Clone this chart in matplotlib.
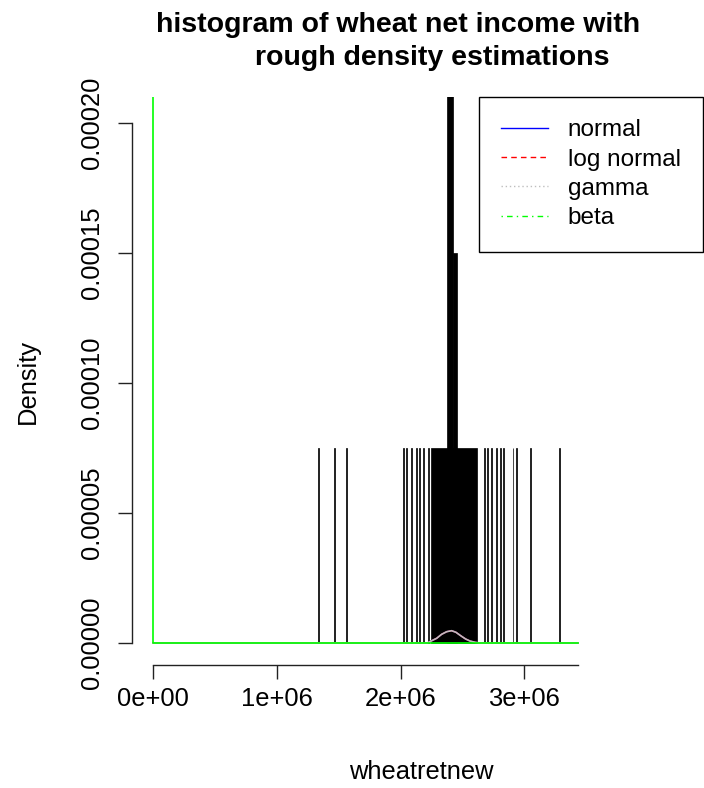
import matplotlib
matplotlib.use('Agg')
import matplotlib.pyplot as plt
from matplotlib.lines import Line2D

plt.rcParams['font.family'] = ['Liberation Sans', 'DejaVu Sans']

#############################################################
## Dados
#############################################################
# Histograma de wheatretnew (limite esquerdo, largura, densidade)
bar_left = [1.330e6, 1.459e6, 1.562e6, 2.015e6, 2.045e6, 2.086e6, 2.124e6, 2.152e6,
            2.184e6, 2.223e6, 2.243e6, 2.377e6, 2.426e6, 2.673e6, 2.698e6, 2.730e6,
            2.767e6, 2.799e6, 2.827e6, 2.904e6, 2.936e6, 3.049e6, 3.283e6]
bar_width = [0.008e6, 0.008e6, 0.008e6, 0.008e6, 0.008e6, 0.008e6, 0.008e6, 0.008e6,
             0.008e6, 0.008e6, 0.376e6, 0.049e6, 0.029e6, 0.008e6, 0.008e6, 0.008e6,
             0.008e6, 0.008e6, 0.008e6, 0.008e6, 0.008e6, 0.008e6, 0.008e6]
bar_height = [7.5e-5, 7.5e-5, 7.5e-5, 7.5e-5, 7.5e-5, 7.5e-5, 7.5e-5, 7.5e-5,
              7.5e-5, 7.5e-5, 7.5e-5, 2.25e-4, 1.5e-4, 7.5e-5, 7.5e-5, 7.5e-5,
              7.5e-5, 7.5e-5, 7.5e-5, 7.5e-5, 7.5e-5, 7.5e-5, 7.5e-5]

# Curvas de densidade (normal, log normal e gamma praticamente iguais)
curve_x = [0.0, 2.215e6, 2.251e6, 2.291e6, 2.331e6, 2.372e6, 2.412e6, 2.447e6,
           2.485e6, 2.525e6, 2.560e6, 2.601e6, 2.640e6, 3.433e6]
normal_y = [0.0, 0.0, 0.88e-6, 1.81e-6, 3.35e-6, 4.35e-6, 4.73e-6, 4.12e-6,
            2.81e-6, 1.54e-6, 0.77e-6, 0.27e-6, 0.0, 0.0]
lognormal_y = [0.0, 0.0, 0.88e-6, 1.81e-6, 3.35e-6, 4.35e-6, 4.73e-6, 4.12e-6,
               2.81e-6, 1.54e-6, 0.77e-6, 0.27e-6, 0.0, 0.0]
gamma_y = [0.0, 0.0, 0.88e-6, 1.81e-6, 3.35e-6, 4.35e-6, 4.73e-6, 4.12e-6,
           2.81e-6, 1.54e-6, 0.77e-6, 0.27e-6, 0.0, 0.0]
beta_x = [0.0, 0.0, 3.433e6]
beta_y = [3.0e-4, 0.0, 0.0]

x_ticks = [0, 1e6, 2e6, 3e6]
x_tick_labels = ['0e+00', '1e+06', '2e+06', '3e+06']
y_ticks = [0.0, 0.00005, 0.00010, 0.00015, 0.00020]
y_tick_labels = ['0.00000', '0.00005', '0.00010', '0.00015', '0.00020']

legend_labels = ['normal', 'log normal', 'gamma', 'beta']

#############################################################
## Figura
#############################################################
W, H = 704, 788
fig = plt.figure(figsize=(W / 100, H / 100), dpi=100)
ax = fig.add_axes([132 / W, (H - 665) / H, (703 - 132) / W, (665 - 97) / H])

ax.bar(bar_left, bar_height, width=bar_width, align='edge', color='black',
       edgecolor='black', linewidth=0.5)

# no gráfico original as curvas aparecem quase contínuas (segmentos curtos)
ax.plot(curve_x, normal_y, color='blue', linewidth=1)
ax.plot(curve_x, lognormal_y, color='red', linewidth=1)
ax.plot(curve_x, gamma_y, color='#bebebe', linewidth=1.2)
ax.plot(beta_x, beta_y, color='#00ff00', linewidth=1.2)

ax.set_xlim(-0.172e6, 4.444e6)
ax.set_ylim(-8.46e-6, 2.10e-4)

for s in ['top', 'right']:
    ax.spines[s].set_visible(False)
ax.spines['left'].set_bounds(0, 0.0002)
ax.spines['bottom'].set_bounds(0, 3.433e6)
for s in ['left', 'bottom']:
    ax.spines[s].set_linewidth(1.0)
    ax.spines[s].set_color('#222222')

ax.set_xticks(x_ticks)
ax.set_xticklabels(x_tick_labels)
ax.set_yticks(y_ticks)
ax.set_yticklabels(y_tick_labels, rotation=90, va='center')
ax.tick_params(axis='both', length=10, width=1.0, color='#222222', labelsize=18.4)
ax.tick_params(axis='x', pad=6)
ax.tick_params(axis='y', pad=10)

ax.set_xlabel('wheatretnew', fontsize=18.4)
ax.xaxis.set_label_coords((421 - 132) / (703 - 132), -(772 - 665) / (665 - 97))
ax.xaxis.label.set_va('center')
ax.set_ylabel('Density', fontsize=18.4)
ax.yaxis.set_label_coords(-(132 - 28) / (703 - 132), (665 - 381) / (665 - 97))
ax.yaxis.label.set_va('center')

fig.text(398 / W, 1 - 32 / H, 'histogram of wheat net income with',
         ha='center', va='baseline', fontsize=20.5, fontweight='bold')
fig.text(432 / W, 1 - 65 / H, 'rough density estimations',
         ha='center', va='baseline', fontsize=20.5, fontweight='bold')

handles = [Line2D([], [], color='blue', linewidth=1),
           Line2D([], [], color='red', linewidth=1, linestyle=(0, (4, 3))),
           Line2D([], [], color='#bebebe', linewidth=1, linestyle=(0, (1, 2))),
           Line2D([], [], color='#00ff00', linewidth=1, linestyle=(0, (1, 3, 4, 3)))]
leg = ax.legend(handles, legend_labels, loc='upper right', bbox_to_anchor=(1.0, 1.0),
                borderaxespad=0, fontsize=17.5, frameon=True, fancybox=False,
                handlelength=1.93, handletextpad=0.8, borderpad=0.92,
                labelspacing=0.3)
leg.get_frame().set_edgecolor('black')
leg.get_frame().set_linewidth(1.0)
leg.get_frame().set_alpha(1)

fig.savefig('out.png', dpi=100)
